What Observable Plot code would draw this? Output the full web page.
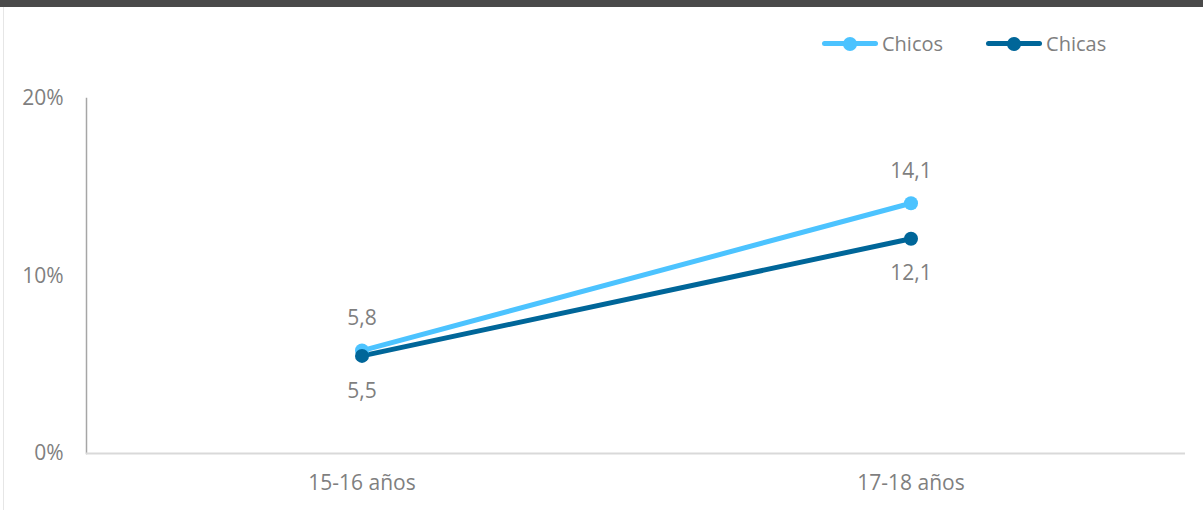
<!DOCTYPE html>
<html>
<head>
<meta charset="utf-8">
<script src="https://cdn.jsdelivr.net/npm/d3@7"></script>
<script src="https://cdn.jsdelivr.net/npm/@observablehq/plot@0.6"></script>
<style>
  html, body { margin: 0; padding: 0; background: #fff; }
  body { width: 1203px; height: 510px; position: relative; overflow: hidden; font-family: "Open Sans", sans-serif; }
  #topbar { position: absolute; left: 0; top: 0; width: 1203px; height: 7px; background: #4a4a4a; }
  #leftline { position: absolute; left: 3px; top: 7px; width: 1px; height: 503px; background: #e6e6e6; }
  #chart { position: absolute; left: 0; top: 0; }
  #legend { position: absolute; top: 30px; left: 822px; display: flex; align-items: center; color: #7f7f7f; font-size: 20px; }
  .item { display: flex; align-items: center; margin-right: 43px; }
  .sw { position: relative; width: 56px; height: 5px; border-radius: 3px; margin-right: 4px; }
  .sw::after { content: ""; position: absolute; left: 21px; top: -4.5px; width: 14px; height: 14px; border-radius: 50%; background: inherit; }
</style>
</head>
<body>
<div id="chart"></div>
<div id="topbar"></div>
<div id="leftline"></div>
<div id="legend"></div>
<script>
const categories = ["15-16 años", "17-18 años"];
const seriesNames = ["Chicos", "Chicas"];
const chicos = [5.8, 14.1];
const chicas = [5.5, 12.1];
const yTicks = [0, 10, 20];
const colors = ["#4cc3ff", "#006699"];

const data = [];
categories.forEach((c, i) => {
  data.push({cat: c, serie: "Chicos", value: chicos[i]});
  data.push({cat: c, serie: "Chicas", value: chicas[i]});
});
const fmt = v => v.toFixed(1).replace(".", ",");

const chart = Plot.plot({
  width: 1203,
  height: 510,
  marginTop: 98,
  marginBottom: 57,
  marginLeft: 86,
  marginRight: 18,
  style: {fontFamily: "'Open Sans', sans-serif", fontSize: "21px", color: "#7f7f7f", background: "transparent"},
  x: {type: "band", domain: categories, padding: 0, label: null},
  y: {domain: [0, 20], label: null},
  color: {domain: seriesNames, range: colors},
  marks: [
    Plot.frame({anchor: "left", stroke: "#a6a6a6", strokeWidth: 1.5}),
    Plot.ruleY([0], {stroke: "#d9d9d9", strokeWidth: 2}),
    Plot.axisY({ticks: yTicks, tickSize: 0, tickPadding: 23, tickFormat: d => d + "%", fill: "#7f7f7f", fontSize: 21}),
    Plot.axisX({tickSize: 0, tickPadding: 22, fill: "#7f7f7f", fontSize: 21}),
    Plot.line(data, {x: "cat", y: "value", z: "serie", stroke: "serie", strokeWidth: 5, strokeLinecap: "round"}),
    Plot.dot(data, {x: "cat", y: "value", fill: "serie", r: 7}),
    Plot.text(data.filter(d => d.serie === "Chicos"), {x: "cat", y: "value", text: d => fmt(d.value), dy: -32, fill: "#7f7f7f", fontSize: 21}),
    Plot.text(data.filter(d => d.serie === "Chicas"), {x: "cat", y: "value", text: d => fmt(d.value), dy: 35, fill: "#7f7f7f", fontSize: 21})
  ]
});
document.getElementById("chart").appendChild(chart);

const legend = document.getElementById("legend");
seriesNames.forEach((s, i) => {
  const item = document.createElement("div");
  item.className = "item";
  const sw = document.createElement("span");
  sw.className = "sw";
  sw.style.background = colors[i];
  const lab = document.createElement("span");
  lab.textContent = s;
  item.appendChild(sw);
  item.appendChild(lab);
  legend.appendChild(item);
});
</script>
</body>
</html>
